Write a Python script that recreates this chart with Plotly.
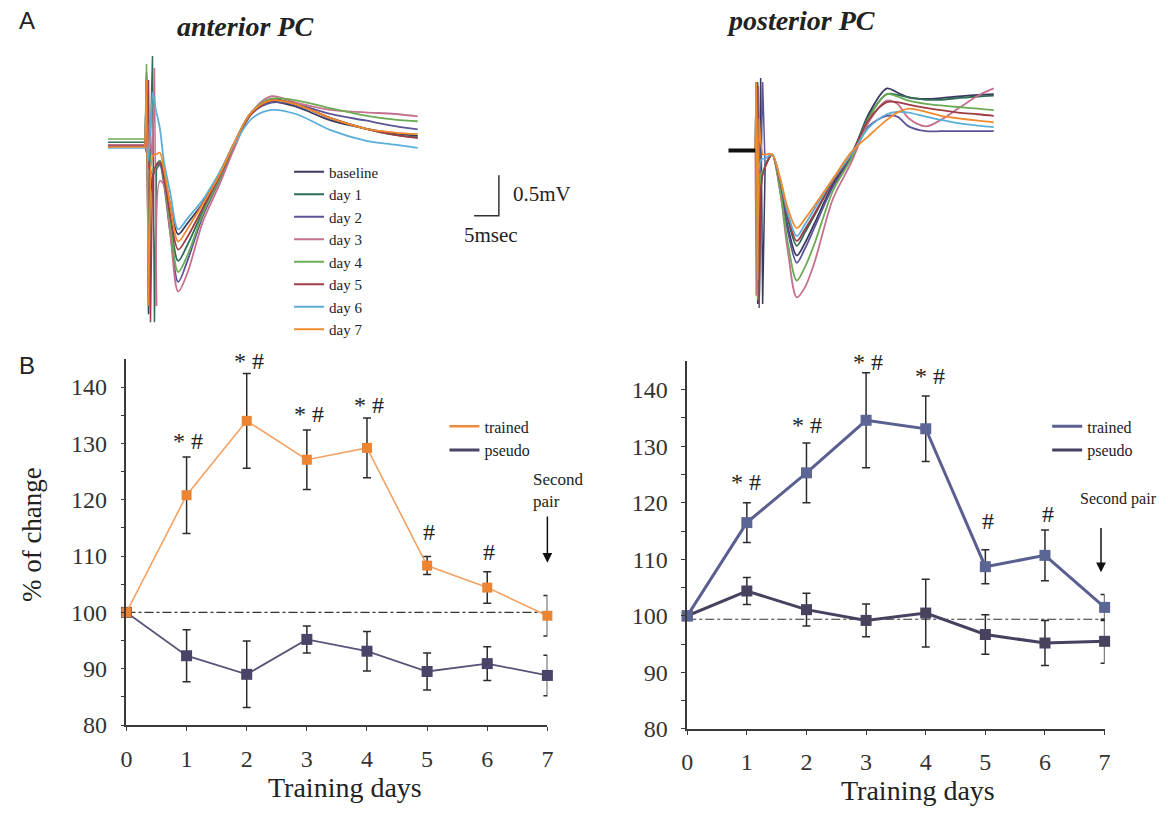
import plotly.graph_objects as go

W, H = 1168, 819
SERIF = "Liberation Serif"
SANS = "Liberation Sans"
INK = "#222222"

# ---------------- Panel B data ----------------
DAYS = [0, 1, 2, 3, 4, 5, 6, 7]
# anterior PC
TRAINED_ANT = [100, 120.8, 134.0, 127.1, 129.2, 108.3, 104.4, 99.4]
TRAINED_ANT_SEM = [0, 6.8, 8.4, 5.3, 5.3, 1.6, 2.8, 3.6]
PSEUDO_ANT = [100, 92.3, 89.0, 95.2, 93.1, 89.5, 90.9, 88.8]
PSEUDO_ANT_SEM = [0, 4.6, 5.9, 2.4, 3.5, 3.3, 3.0, 3.6]
# posterior PC
TRAINED_POS = [100, 116.5, 125.3, 134.6, 133.1, 108.7, 110.7, 101.5]
TRAINED_POS_SEM = [0, 3.5, 5.3, 8.4, 5.8, 3.0, 4.5, 2.3]
PSEUDO_POS = [100, 104.4, 101.1, 99.2, 100.5, 96.7, 95.2, 95.5]
PSEUDO_POS_SEM = [0, 2.4, 2.9, 2.9, 6.0, 3.5, 4.0, 3.9]

REF_LEVEL_ANT = 100
REF_SPAN_ANT = [0, 6.95]
REF_LEVEL_POS = 99.4
REF_SPAN_POS = [0, 7.0]

SIG_ANT_X = [1.02, 2.03, 3.03, 4.03, 5.03, 6.03]
SIG_ANT_Y = [130.4, 144.6, 135.3, 136.8, 114.2, 110.8]
SIG_ANT_TXT = ["* #", "* #", "* #", "* #", "#", "#"]
SIG_POS_X = [0.99, 2.01, 3.04, 4.07, 5.04, 6.05]
SIG_POS_Y = [123.6, 133.8, 144.9, 142.5, 116.7, 118.1]
SIG_POS_TXT = ["* #", "* #", "* #", "* #", "#", "#"]

X_TICKS = [0, 1, 2, 3, 4, 5, 6, 7]
Y_TICKS = [80, 90, 100, 110, 120, 130, 140]
Y_MINOR = [85, 95, 105, 115, 125, 135]

# ---------------- Panel A data (time in ms, potential in mV) ----------------
WAVE_NAMES = ["baseline", "day 1", "day 2", "day 3", "day 4", "day 5", "day 6", "day 7"]
WAVE_COLORS = ["#3b3960", "#2f6e55", "#5b5496", "#c5708f", "#6cab55", "#9e3c45", "#5aafd9", "#f08a2e"]

# anterior PC: artefact samples (idx 0-7) then evoked response
T_ANT = [0, 7.5, 7.8, 8.2, 8.6, 9.0, 9.4, 9.8,
         10.5, 11.3, 12.6, 14.2, 16.0, 19.2, 22.5, 25.5, 29.0, 33.0, 38.0, 45.0, 52.0, 58.0, 62.6]
ANT_ARTIFACT_END = 7
ANT_BASELINE = [0.0, 0.0, 0.85, -2.1, -0.6, -0.4, -0.3, -0.25,
                -0.2, -0.35, -0.75, -1.11, -0.98, -0.72, -0.36, 0.02, 0.4, 0.53, 0.47, 0.3, 0.2, 0.14, 0.11]
ANT_DAY1 = [0.03, 0.03, 0.2, -1.0, 0.1, 1.1, -2.2, -0.3,
            -0.22, -0.42, -0.95, -1.44, -1.25, -0.82, -0.42, 0.0, 0.4, 0.56, 0.5, 0.33, 0.2, 0.12, 0.09]
ANT_DAY2 = [0.0, 0.0, 0.9, -2.0, -0.5, -0.4, -0.35, -0.3,
            -0.25, -0.48, -1.1, -1.7, -1.45, -0.88, -0.45, -0.02, 0.38, 0.52, 0.5, 0.38, 0.3, 0.23, 0.19]
ANT_DAY3 = [0.0, 0.0, 0.0, -0.3, 0.1, -0.2, 0.95, -2.0,
            -0.45, -0.5, -1.1, -1.82, -1.6, -0.95, -0.5, -0.05, 0.4, 0.6, 0.52, 0.43, 0.4, 0.38, 0.35]
ANT_DAY4 = [0.07, 0.07, 1.0, -2.0, -0.4, -0.3, -0.3, -0.28,
            -0.2, -0.42, -1.0, -1.58, -1.38, -0.85, -0.43, 0.0, 0.4, 0.57, 0.55, 0.45, 0.36, 0.31, 0.29]
ANT_DAY5 = [-0.02, -0.02, -0.1, 0.8, -2.2, -0.4, -0.3, -0.25,
            -0.22, -0.4, -0.88, -1.3, -1.15, -0.78, -0.4, 0.0, 0.38, 0.55, 0.5, 0.33, 0.2, 0.12, 0.08]
ANT_DAY6 = [-0.04, -0.04, -0.04, -0.2, 0.3, 0.65, 0.55, 0.4,
            0.2, -0.2, -0.6, -1.05, -0.92, -0.68, -0.35, 0.0, 0.32, 0.43, 0.38, 0.18, 0.05, 0.0, -0.04]
ANT_DAY7 = [-0.03, -0.03, 0.8, -2.0, -0.3, -0.15, -0.12, -0.12,
            -0.1, -0.3, -0.75, -1.2, -1.05, -0.73, -0.38, 0.02, 0.4, 0.55, 0.5, 0.33, 0.2, 0.15, 0.13]

# posterior PC: artefact samples (idx 0-6) then evoked response
T_POS = [0, 0.2, 0.5, 0.8, 1.1, 1.5, 2.0,
         3.4, 5.0, 6.6, 8.4, 10.0, 12.0, 15.7, 19.4, 22.9, 26.6, 28.7, 31.0, 34.5, 37.5, 41.0, 45.0, 48.2]
POS_ARTIFACT_END = 6
POS_BASELINE = [0, 0.85, -1.9, -0.6, 0.9, -1.9, -0.2,
                -0.05, -0.42, -0.95, -1.3, -1.15, -0.9, -0.42, -0.08, 0.45, 0.77, 0.72, 0.66, 0.64, 0.65, 0.67, 0.69, 0.70]
POS_DAY1 = [0, 0.1, 0.8, -1.9, -0.4, -0.3, -0.18,
            -0.05, -0.38, -0.85, -1.18, -1.02, -0.8, -0.38, -0.05, 0.42, 0.7, 0.69, 0.66, 0.63, 0.63, 0.65, 0.67, 0.68]
POS_DAY2 = [0, 0.0, 0.85, -1.95, -0.5, 0.85, -0.2,
            -0.05, -0.45, -1.0, -1.39, -1.22, -0.95, -0.45, -0.1, 0.3, 0.43, 0.42, 0.3, 0.24, 0.24, 0.24, 0.24, 0.24]
POS_DAY3 = [0, -1.8, -0.6, -0.3, -0.3, -0.25, -0.2,
            -0.05, -0.5, -1.25, -1.82, -1.7, -1.38, -0.6, -0.15, 0.35, 0.62, 0.58, 0.4, 0.3, 0.38, 0.52, 0.68, 0.77]
POS_DAY4 = [0, 0.8, -1.85, -0.55, -0.3, -0.25, -0.2,
            -0.05, -0.48, -1.15, -1.61, -1.45, -1.15, -0.5, -0.1, 0.4, 0.7, 0.67, 0.62, 0.58, 0.56, 0.54, 0.52, 0.50]
POS_DAY5 = [0, 0.2, 0.8, -1.9, -0.5, -0.3, -0.2,
            -0.05, -0.38, -0.82, -1.12, -0.98, -0.78, -0.38, -0.05, 0.38, 0.6, 0.6, 0.57, 0.53, 0.5, 0.47, 0.45, 0.43]
POS_DAY6 = [0, 0.85, -0.4, -0.2, -0.12, -0.1, -0.1,
            -0.05, -0.35, -0.78, -1.06, -0.92, -0.72, -0.36, -0.05, 0.28, 0.45, 0.48, 0.47, 0.42, 0.38, 0.34, 0.31, 0.29]
POS_DAY7 = [0, 0.85, -1.6, 0.4, 0.1, -0.05, -0.05,
            -0.05, -0.33, -0.72, -0.96, -0.85, -0.68, -0.35, -0.02, 0.18, 0.38, 0.47, 0.52, 0.48, 0.43, 0.4, 0.37, 0.35]

ANT_WAVES = [ANT_BASELINE, ANT_DAY1, ANT_DAY2, ANT_DAY3, ANT_DAY4, ANT_DAY5, ANT_DAY6, ANT_DAY7]
POS_WAVES = [POS_BASELINE, POS_DAY1, POS_DAY2, POS_DAY3, POS_DAY4, POS_DAY5, POS_DAY6, POS_DAY7]

SCALE_MS = 5
SCALE_MV = 0.5
SCALE_CORNER = (79, -0.88)
STIM_BAR_MS = [-5.4, 0]


def px_x(px):
    return px / W


def px_y(py):
    return 1 - py / H


fig = go.Figure()


def add_wave(t, v, split, color, name, xa, ya, legend_on):
    # stimulus artefact: sharp straight segments
    fig.add_trace(go.Scatter(x=t[:split + 1], y=v[:split + 1], mode="lines",
                             line=dict(color=color, width=1.5),
                             xaxis=xa, yaxis=ya, showlegend=False, hoverinfo="skip"))
    # evoked response: smooth curve
    fig.add_trace(go.Scatter(x=t[split:], y=v[split:], mode="lines", name=name,
                             line=dict(color=color, width=1.8, shape="spline", smoothing=0.9),
                             xaxis=xa, yaxis=ya, legend="legend3", showlegend=legend_on,
                             hoverinfo="skip"))


for name, color, v in zip(WAVE_NAMES, WAVE_COLORS, ANT_WAVES):
    add_wave(T_ANT, v, ANT_ARTIFACT_END, color, name, "x3", "y3", True)
for name, color, v in zip(WAVE_NAMES, WAVE_COLORS, POS_WAVES):
    add_wave(T_POS, v, POS_ARTIFACT_END, color, name, "x4", "y4", False)

# scale bar
cx, cy = SCALE_CORNER
fig.add_trace(go.Scatter(x=[cx - SCALE_MS, cx, cx], y=[cy, cy, cy + SCALE_MV], mode="lines",
                         line=dict(color="#333333", width=1.5), xaxis="x3", yaxis="y3",
                         showlegend=False, hoverinfo="skip"))
# stimulus/baseline marker in posterior panel
fig.add_trace(go.Scatter(x=STIM_BAR_MS, y=[0, 0], mode="lines",
                         line=dict(color="#111111", width=4), xaxis="x4", yaxis="y4",
                         showlegend=False, hoverinfo="skip"))

# ---------- Panel B ----------
ERR = "#2b2b2b"


def add_series(x, y, sem, line_color, line_w, mk_color, mk_size, xa, ya):
    fig.add_trace(go.Scatter(
        x=x, y=y, mode="lines+markers",
        line=dict(color=line_color, width=line_w),
        marker=dict(symbol="square", size=mk_size, color=mk_color),
        error_y=dict(type="data", array=sem, visible=True, color=ERR, thickness=1.5, width=4),
        xaxis=xa, yaxis=ya, showlegend=False, cliponaxis=False))


# reference lines
fig.add_trace(go.Scatter(x=REF_SPAN_ANT, y=[REF_LEVEL_ANT] * 2, mode="lines",
                         line=dict(color="#333333", width=1.2, dash="dashdot"),
                         xaxis="x", yaxis="y", showlegend=False, hoverinfo="skip"))
fig.add_trace(go.Scatter(x=REF_SPAN_POS, y=[REF_LEVEL_POS] * 2, mode="lines",
                         line=dict(color="#333333", width=1.2, dash="dashdot"),
                         xaxis="x2", yaxis="y2", showlegend=False, hoverinfo="skip"))

add_series(DAYS, PSEUDO_ANT, PSEUDO_ANT_SEM, "#5a5278", 1.8, "#4a4468", 11, "x", "y")
add_series(DAYS, TRAINED_ANT, TRAINED_ANT_SEM, "#f4a263", 1.6, "#ec8431", 10, "x", "y")
add_series(DAYS, PSEUDO_POS, PSEUDO_POS_SEM, "#47415f", 3, "#48425f", 11, "x2", "y2")
add_series(DAYS, TRAINED_POS, TRAINED_POS_SEM, "#5a5f90", 3, "#5b6694", 11, "x2", "y2")

# legend entries (line only)
fig.add_trace(go.Scatter(x=[None], y=[None], mode="lines", name="trained",
                         line=dict(color="#f08a3a", width=2.5), xaxis="x", yaxis="y", legend="legend"))
fig.add_trace(go.Scatter(x=[None], y=[None], mode="lines", name="pseudo",
                         line=dict(color="#4a4468", width=3), xaxis="x", yaxis="y", legend="legend"))
fig.add_trace(go.Scatter(x=[None], y=[None], mode="lines", name="trained",
                         line=dict(color="#5a5f90", width=3), xaxis="x2", yaxis="y2", legend="legend2"))
fig.add_trace(go.Scatter(x=[None], y=[None], mode="lines", name="pseudo",
                         line=dict(color="#45405f", width=3), xaxis="x2", yaxis="y2", legend="legend2"))

annotations = []
for x, y, t in zip(SIG_ANT_X, SIG_ANT_Y, SIG_ANT_TXT):
    annotations.append(dict(x=x, y=y, xref="x", yref="y", text=t, showarrow=False,
                            xanchor="center", yanchor="middle",
                            font=dict(family=SERIF, size=24, color=INK)))
for x, y, t in zip(SIG_POS_X, SIG_POS_Y, SIG_POS_TXT):
    annotations.append(dict(x=x, y=y, xref="x2", yref="y2", text=t, showarrow=False,
                            xanchor="center", yanchor="middle",
                            font=dict(family=SERIF, size=24, color=INK)))

# second pair arrows
annotations += [
    dict(x=7.0, y=108.8, ax=7.0, ay=117.3, xref="x", yref="y", axref="x", ayref="y",
         text="", showarrow=True, arrowhead=2, arrowsize=1.3, arrowwidth=1.5, arrowcolor="#111111"),
    dict(x=6.72, y=121.7, xref="x", yref="y", text="Second<br>pair", showarrow=False,
         xanchor="left", yanchor="middle", align="left", font=dict(family=SERIF, size=17, color=INK)),
    dict(x=6.94, y=107.7, ax=6.94, ay=115.8, xref="x2", yref="y2", axref="x2", ayref="y2",
         text="", showarrow=True, arrowhead=2, arrowsize=1.3, arrowwidth=1.5, arrowcolor="#111111"),
    dict(x=px_x(1124), y=px_y(507), xref="paper", yref="paper", text="Second pair", showarrow=False,
         xanchor="center", yanchor="middle", font=dict(family=SERIF, size=16, color=INK)),
]


def label(x, y, text, size, family=SERIF, angle=0):
    return dict(x=px_x(x), y=px_y(y), xref="paper", yref="paper", text=text, showarrow=False,
                xanchor="center", yanchor="middle", textangle=angle,
                font=dict(family=family, size=size, color=INK))


annotations += [
    label(343, 800, "Training days", 28),
    label(921, 803, "Training days", 28),
    label(27, 543, "% of change", 27, angle=-90),
    label(21, 21, "A", 24, SANS),
    label(21, 371, "B", 24, SANS),
    label(241, 27, "<b><i>anterior PC</i></b>", 28),
    label(803, 21, "<b><i>posterior PC</i></b>", 28),
    dict(x=81.5, y=-0.61, xref="x3", yref="y3", text="0.5mV", showarrow=False, xanchor="left",
         yanchor="middle", font=dict(family=SERIF, size=21, color=INK)),
    dict(x=77.4, y=-1.12, xref="x3", yref="y3", text="5msec", showarrow=False, xanchor="center",
         yanchor="middle", font=dict(family=SERIF, size=21, color=INK)),
]

axis_common = dict(showgrid=False, zeroline=False, showline=True, linecolor="#3a3a3a", linewidth=1.5,
                   ticks="outside", ticklen=4, tickwidth=1.2, tickcolor="#3a3a3a",
                   tickfont=dict(family=SERIF, size=24, color="#333333"))

fig.update_layout(
    width=W, height=H, margin=dict(l=0, r=0, t=0, b=0),
    paper_bgcolor="white", plot_bgcolor="white",
    xaxis=dict(domain=[px_x(121.7), px_x(547)], range=[0, 7], tickvals=X_TICKS, anchor="y",
               ticklabelstandoff=7, **axis_common),
    yaxis=dict(domain=[px_y(736.7), px_y(364.7)], range=[80, 145], tickvals=Y_TICKS, anchor="x",
               ticklabelstandoff=9,
               minor=dict(tickvals=Y_MINOR, ticks="outside", ticklen=4, tickcolor="#3a3a3a"),
               **axis_common),
    xaxis2=dict(domain=[px_x(688.3), px_x(1110)], range=[0, 7], tickvals=X_TICKS, anchor="y2",
                ticklabelstandoff=7, **axis_common),
    yaxis2=dict(domain=[px_y(740.7), px_y(367.3)], range=[80, 145], tickvals=Y_TICKS, anchor="x2",
                ticklabelstandoff=9,
                minor=dict(tickvals=Y_MINOR, ticks="outside", ticklen=4, tickcolor="#3a3a3a"),
                **axis_common),
    xaxis3=dict(domain=[px_x(100), px_x(560)], range=[-0.6, 91.4], visible=False, anchor="y3"),
    yaxis3=dict(domain=[px_y(335), px_y(50)], range=[-2.2927, 1.1829], visible=False, anchor="x3"),
    xaxis4=dict(domain=[px_x(720), px_x(1005)], range=[-7.4, 49.6], visible=False, anchor="y4"),
    yaxis4=dict(domain=[px_y(320), px_y(70)], range=[-2.0366, 1.0122], visible=False, anchor="x4"),
    legend=dict(x=px_x(443), y=px_y(416), xanchor="left", yanchor="top", bgcolor="rgba(0,0,0,0)",
                font=dict(family=SERIF, size=16, color=INK), itemwidth=30),
    legend2=dict(x=px_x(1052), y=px_y(416), xanchor="left", yanchor="top", bgcolor="rgba(0,0,0,0)",
                 font=dict(family=SERIF, size=16, color=INK), itemwidth=30),
    legend3=dict(x=px_x(286), y=px_y(158), xanchor="left", yanchor="top", bgcolor="rgba(0,0,0,0)",
                 font=dict(family=SERIF, size=15, color=INK), itemwidth=30, tracegroupgap=0),
    annotations=annotations,
    showlegend=True,
)

fig.write_html("out.html")
